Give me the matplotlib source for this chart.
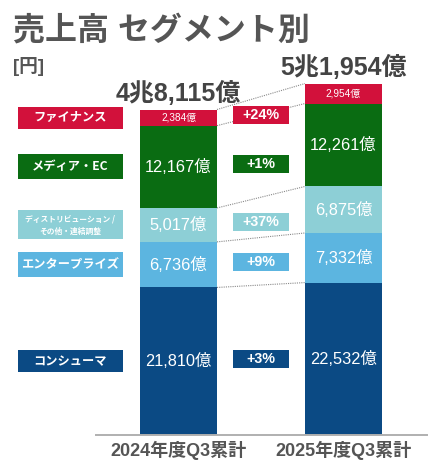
import matplotlib
matplotlib.use('Agg')
import matplotlib.pyplot as plt
from matplotlib.patches import Rectangle
import numpy as np

plt.rcParams['font.family'] = ['Liberation Sans', 'Noto Sans CJK JP', 'DejaVu Sans']
CJK = ['Noto Sans CJK JP', 'DejaVu Sans']

# ---- data ----
periods = ['2024年度Q3累計', '2025年度Q3累計']
segments = ['コンシューマ', 'エンタープライズ', 'ディストリビューション /\nその他・連結調整',
            'メディア・EC', 'ファイナンス']
values_2024 = [21810, 6736, 5017, 12167, 2384]
values_2025 = [22532, 7332, 6875, 12261, 2954]
growth = ['+3%', '+9%', '+37%', '+1%', '+24%']
totals = ['4兆8,115億', '5兆1,954億']
colors = ['#0b4a84', '#5cb5e0', '#8dcfd6', '#0a6c12', '#d2113b']

W, H = 443, 468
fig = plt.figure(figsize=(W / 100, H / 100), dpi=100)
fig.patch.set_facecolor('white')

ax_l, ax_r, ax_b = 96, 427, 33
ax = fig.add_axes([ax_l / W, ax_b / H, (ax_r - ax_l) / W, (H - ax_b) / H])
PXY = 0.006765          # px per 億
PXX = 165.0             # px per category unit
ax.set_xlim(-0.5, -0.5 + (ax_r - ax_l) / PXX)
ax.set_ylim(0, (H - ax_b) / PXY)

def py(p):
    return p / PXY

def pxx(p):
    return p / PXX

x = np.arange(len(periods))
bw = 77 / PXX
series = [values_2024, values_2025]
bottoms = [np.concatenate([[0], np.cumsum(v)[:-1]]) for v in series]

for i, vals in enumerate(series):
    ax.bar(np.full(len(vals), x[i]), vals, bottom=bottoms[i], width=bw,
           color=colors, edgecolor='none', zorder=2)
    for j, v in enumerate(vals):
        mid = bottoms[i][j] + v / 2
        fs = 7.2 if j == len(vals) - 1 else 11.8
        ax.text(x[i], mid, f'{v:,}億', ha='center', va='center', color='white',
                fontsize=fs, zorder=3)
    top = bottoms[i][-1] + vals[-1]
    ax.text(x[i], top + py(16), totals[i], ha='center', va='center',
            fontsize=18, fontweight='bold', color='#444444', zorder=3)

# dotted connector lines
for j in range(len(segments)):
    y1 = bottoms[0][j] + values_2024[j]
    y2 = bottoms[1][j] + values_2025[j]
    ax.plot([x[0] + bw / 2, x[1] - bw / 2], [y1, y2], ls=(0, (1, 1)),
            color='#8a8a8a', lw=0.8, zorder=1)

# left segment label boxes
lab_cx = -0.5 + (70.5 - ax_l) / PXX
lab_w = pxx(105)
lab_h = [22, 25, 29, 25, 22]
for j, name in enumerate(segments):
    mid = bottoms[0][j] + values_2024[j] / 2
    h = py(lab_h[j])
    ax.add_patch(Rectangle((lab_cx - lab_w / 2, mid - h / 2), lab_w, h,
                           facecolor=colors[j], edgecolor='none', clip_on=False, zorder=4))
    fs = 5.6 if '\n' in name else 8.8
    ax.text(lab_cx, mid, name, ha='center', va='center', color='white',
            fontsize=fs, fontweight='bold', linespacing=1.5, clip_on=False, zorder=5,
            family=CJK)

# growth boxes
g_cx = 0.5
g_w = pxx(56)
g_h = py(18)
for j, g in enumerate(growth):
    mid = bottoms[0][j] + values_2024[j] / 2 + py(2.5)
    ax.add_patch(Rectangle((g_cx - g_w / 2, mid - g_h / 2), g_w, g_h,
                           facecolor=colors[j], edgecolor='none', zorder=4))
    ax.text(g_cx, mid, g, ha='center', va='center', color='white',
            fontsize=10.3, fontweight='bold', zorder=5)

# axes styling
for s in ['top', 'right', 'left']:
    ax.spines[s].set_visible(False)
ax.spines['bottom'].set_color('#b0b0b0')
ax.spines['bottom'].set_linewidth(1.4)
ax.set_yticks([])
ax.set_xticks(x)
ax.set_xticklabels(periods, fontsize=13, fontweight='bold', color='#555555')
ax.tick_params(axis='x', length=0, pad=4)
ax.patch.set_alpha(0)

fig.text(13 / W, 1 - 31 / H, '売上高 セグメント別', fontsize=23, fontweight='bold',
         color='#555555', ha='left', va='center')
fig.text(13 / W, 1 - 67 / H, '[円]', fontsize=13.5, fontweight='bold',
         color='#555555', ha='left', va='center')

fig.savefig('out.png', dpi=100, facecolor='white')
